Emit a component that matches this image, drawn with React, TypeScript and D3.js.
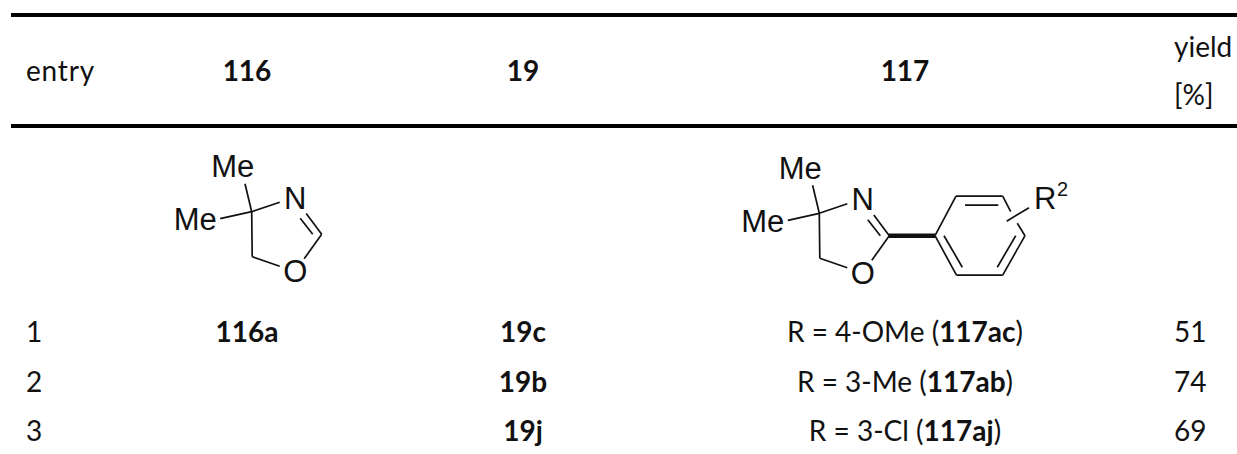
import * as d3 from 'd3';

const WIDTH = 1237;
const HEIGHT = 454;

// table contents
const columns = ['entry', '116', '19', '117', 'yield'];
const rowEntries = ['1', '2', '3'];
const col116 = ['116a', '', ''];
const col19 = ['19c', '19b', '19j'];
const rGroups = ['R = 4-OMe', 'R = 3-Me', 'R = 3-Cl'];
const productIds = ['117ac', '117ab', '117aj'];
const yields = ['51', '74', '69'];

// skeleton of the oxazoline, in drawing units from the quaternary carbon
const oxazolineBonds: number[][] = [
  [0, 0, -6.7, -28],
  [0, 0, -31.5, 7],
  [0, 0, 28, -9.5],
  [0, 0, 0.5, 45],
  [0.5, 45, 28, 54.5],
  [54.5, 1.7, 70, 22.5],
  [48.5, 6.5, 61, 22.5],
  [70, 22.5, 52.5, 47],
];
const oxazolineLabels: [string, number, number][] = [
  ['Me', -19, -45.5],
  ['Me', -56.5, 7.5],
  ['N', 43.5, -14],
  ['O', 43.5, 59.5],
];

// aryl ring, same units, origin at the ipso carbon
const arylBonds: number[][] = [
  [0, 0, 21, -39.5],
  [21, -39.5, 67.7, -39.5],
  [67.7, -39.5, 75.7, -24],
  [82.3, -12.4, 90, 0],
  [90, 0, 67.7, 39.5],
  [67.7, 39.5, 21.5, 39.5],
  [21.5, 39.5, 0, 0],
  [30, -30.5, 63.3, -30.5],
  [9, 0, 27.3, 31.5],
  [80.7, 0, 62.3, 31.5],
  [71.7, -14.5, 94, -28],
];

const x = d3.scaleOrdinal<string, number>().domain(columns).range([26, 247, 523, 905, 1174]);
const y = d3.scalePoint<string>().domain(rowEntries).range([342, 441]);
const ruleY = d3.scaleOrdinal<string, number>().domain(['top', 'mid']).range([15, 126]);

const BODY_FONT = 'Lato, "Open Sans", sans-serif';
const CHEM_FONT = '"Liberation Sans", Arial, sans-serif';
const FS = 28;

const Bond = ({ b, ox, oy }: { b: number[]; ox: number; oy: number }) => (
  <line x1={ox + b[0]} y1={oy + b[1]} x2={ox + b[2]} y2={oy + b[3]} stroke="#111" strokeWidth={1.7} />
);

const Oxazoline = ({ ox, oy }: { ox: number; oy: number }) => (
  <g>
    {oxazolineBonds.map((b, i) => <Bond key={i} b={b} ox={ox} oy={oy} />)}
    {oxazolineLabels.map(([t, lx, ly], i) => (
      <text key={i} x={ox + lx} y={oy + ly} dy="0.36em" textAnchor="middle" fontFamily={CHEM_FONT} fontSize={31} fill="#111">{t}</text>
    ))}
  </g>
);

export default function App() {
  const ipsoX = 935;
  const ipsoY = 235.7;
  return (
    <svg width={WIDTH} height={HEIGHT} style={{ position: 'absolute', left: 0, top: 0, background: '#fff' }}>
      {ruleY.domain().map(k => (
        <line key={k} x1={11} x2={WIDTH} y1={ruleY(k)} y2={ruleY(k)} stroke="#000" strokeWidth={4} />
      ))}

      <g fontFamily={BODY_FONT} fontSize={FS} fill="#111">
        <text x={x('entry')} y={81} letterSpacing={0.8}>entry</text>
        <text x={x('116')} y={81} textAnchor="middle" fontWeight={700}>116</text>
        <text x={x('19')} y={81} textAnchor="middle" fontWeight={700}>19</text>
        <text x={x('117')} y={81} textAnchor="middle" fontWeight={700}>117</text>
        <text x={x('yield')} y={57}>yield</text>
        <text x={x('yield')} y={105}>[%]</text>

        {rowEntries.map((r, i) => (
          <g key={r}>
            <text x={26} y={y(r)}>{r}</text>
            <text x={x('116')} y={y(r)} textAnchor="middle" fontWeight={700}>{col116[i]}</text>
            <text x={x('19')} y={y(r)} textAnchor="middle" fontWeight={700}>{col19[i]}</text>
            <text x={x('117')} y={y(r)} textAnchor="middle">
              {rGroups[i]} (<tspan fontWeight={700}>{productIds[i]}</tspan>)
            </text>
            <text x={1174} y={y(r)}>{yields[i]}</text>
          </g>
        ))}
      </g>

      <Oxazoline ox={251.7} oy={211.7} />
      <Oxazoline ox={819.3} oy={213.3} />

      <line x1={889} y1={ipsoY} x2={ipsoX} y2={ipsoY} stroke="#111" strokeWidth={4.5} />
      {arylBonds.map((b, i) => <Bond key={i} b={b} ox={ipsoX} oy={ipsoY} />)}
      <text x={1034} y={209} fontFamily={CHEM_FONT} fontSize={31} fill="#111">
        R
      </text>
      <text x={1057} y={196} fontFamily={CHEM_FONT} fontSize={20} fill="#111">2</text>
    </svg>
  );
}
